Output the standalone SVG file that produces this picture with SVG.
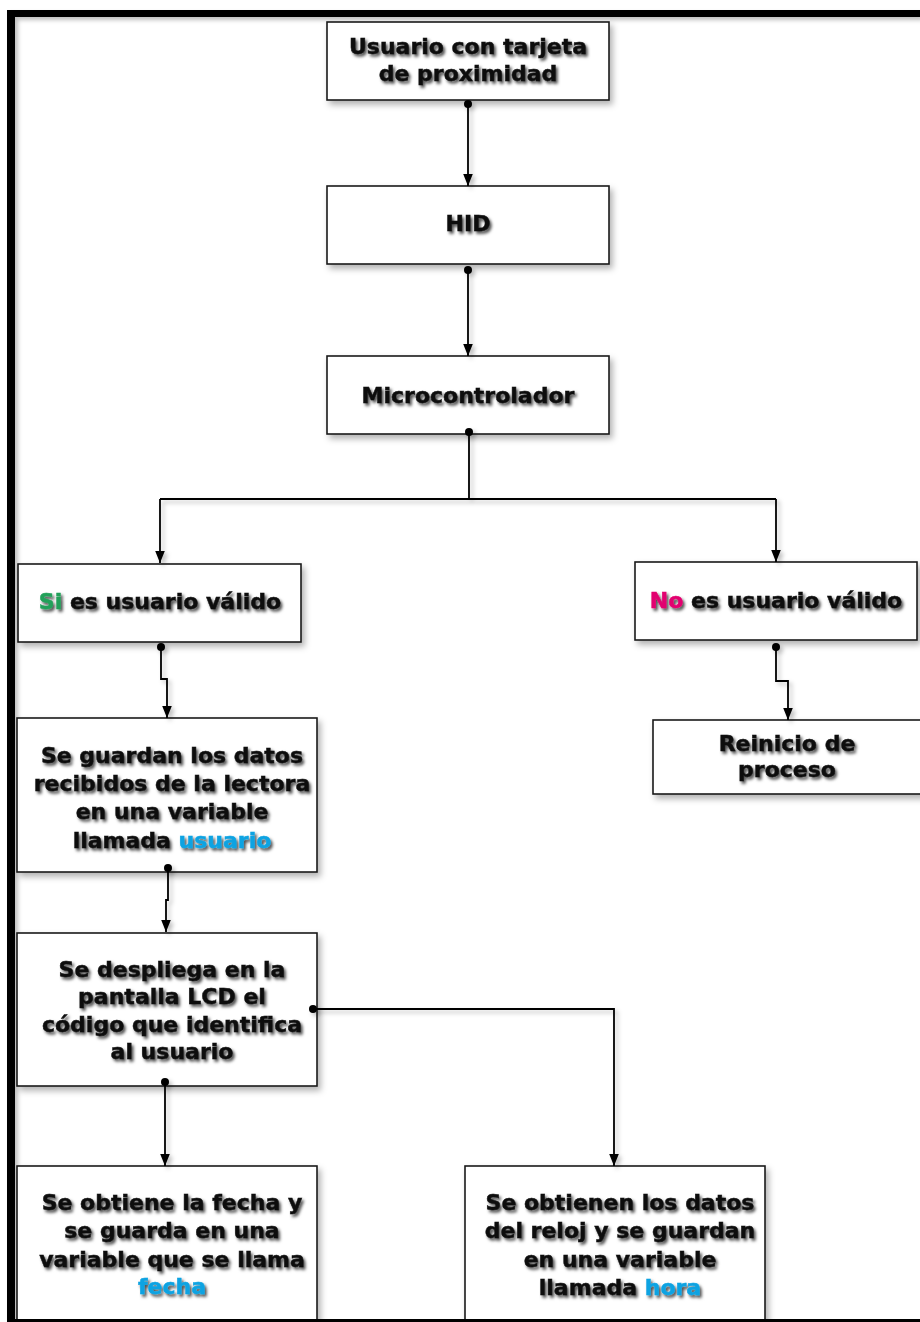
<svg xmlns="http://www.w3.org/2000/svg" width="920" height="1322" viewBox="0 0 920 1322">
<defs>
<filter id="bsh" x="-10%" y="-10%" width="125%" height="130%">
<feDropShadow dx="3" dy="4" stdDeviation="3" flood-color="#000" flood-opacity="0.3"/>
</filter>
<filter id="tsh" x="-10%" y="-30%" width="120%" height="170%">
<feDropShadow dx="2" dy="2.5" stdDeviation="1.8" flood-color="#000" flood-opacity="0.7"/>
</filter>
<filter id="lsh" x="-20%" y="-20%" width="140%" height="140%">
<feDropShadow dx="3" dy="3" stdDeviation="2" flood-color="#000" flood-opacity="0.25"/>
</filter>
<marker id="arr" viewBox="0 0 10 10" refX="10" refY="5" markerWidth="12" markerHeight="12" markerUnits="userSpaceOnUse" orient="auto">
<path d="M0,1 L10,5 L0,9 Z" fill="#000"/>
</marker>
<marker id="dot" viewBox="0 0 10 10" refX="5" refY="5" markerWidth="8" markerHeight="8" markerUnits="userSpaceOnUse" orient="auto">
<circle cx="5" cy="5" r="5" fill="#000"/>
</marker>
</defs>
<style>
.box{fill:#fff;stroke:#1a1a1a;stroke-width:1.6;filter:url(#bsh)}
.t{font-family:"DejaVu Sans","Liberation Sans",sans-serif;font-weight:bold;font-size:22px;fill:#111;stroke:#111;stroke-width:0.5;text-anchor:middle;filter:url(#tsh)}
.c{fill:none;stroke:#000;stroke-width:1.8;marker-start:url(#dot);marker-end:url(#arr)}
.p{fill:none;stroke:#000;stroke-width:1.8}
.g{fill:#23a05a;stroke:#23a05a}
.m{fill:#e2006f;stroke:#e2006f}
.b{fill:#0ea3e2;stroke:#0ea3e2}
</style>
<rect width="920" height="1322" fill="#fff"/>
<g id="frame" filter="url(#lsh)">
<rect x="7" y="10" width="913" height="7" fill="#000"/>
<rect x="7" y="10" width="8" height="1312" fill="#000"/>
</g>
<g id="n1">
<rect class="box" x="327" y="22" width="282" height="78"/>
<text class="t" x="468" y="54">Usuario con tarjeta</text>
<text class="t" x="468" y="81">de proximidad</text>
</g>
<g id="n2">
<rect class="box" x="327" y="186" width="282" height="78"/>
<text class="t" x="468" y="231">HID</text>
</g>
<g id="n3">
<rect class="box" x="327" y="356" width="282" height="78"/>
<text class="t" x="468" y="403">Microcontrolador</text>
</g>
<g id="n4">
<rect class="box" x="18" y="564" width="283" height="78"/>
<text class="t" x="160" y="609"><tspan class="g">Si</tspan> es usuario válido</text>
</g>
<g id="n5">
<rect class="box" x="635" y="562" width="282" height="78"/>
<text class="t" x="776" y="608"><tspan class="m">No</tspan> es usuario válido</text>
</g>
<g id="n6">
<rect class="box" x="653" y="720" width="300" height="74"/>
<text class="t" x="787" y="751">Reinicio de</text>
<text class="t" x="787" y="777">proceso</text>
</g>
<g id="n7">
<rect class="box" x="17" y="718" width="300" height="154"/>
<text class="t" x="172" y="763">Se guardan los datos</text>
<text class="t" x="172" y="791">recibidos de la lectora</text>
<text class="t" x="172" y="819">en una variable</text>
<text class="t" x="172" y="848">llamada <tspan class="b">usuario</tspan></text>
</g>
<g id="n8">
<rect class="box" x="17" y="933" width="300" height="153"/>
<text class="t" x="172" y="977">Se despliega en la</text>
<text class="t" x="172" y="1004">pantalla LCD el</text>
<text class="t" x="172" y="1032">código que identifica</text>
<text class="t" x="172" y="1059">al usuario</text>
</g>
<g id="n9">
<rect class="box" x="17" y="1166" width="300" height="170"/>
<text class="t" x="172" y="1210">Se obtiene la fecha y</text>
<text class="t" x="172" y="1238">se guarda en una</text>
<text class="t" x="172" y="1267">variable que se llama</text>
<text class="t" x="172" y="1294"><tspan class="b">fecha</tspan></text>
</g>
<g id="n10">
<rect class="box" x="465" y="1166" width="300" height="170"/>
<text class="t" x="620" y="1210">Se obtienen los datos</text>
<text class="t" x="620" y="1238">del reloj y se guardan</text>
<text class="t" x="620" y="1267">en una variable</text>
<text class="t" x="620" y="1295">llamada <tspan class="b">hora</tspan></text>
</g>
<g id="connectors" filter="url(#lsh)">
<path class="c" d="M468,104 V186"/>
<path class="c" d="M468,270 V356"/>
<path class="p" d="M469,432 V499 M160,499 H776" style="marker-start:url(#dot)"/>
<path class="p" d="M160,499 V563" style="marker-end:url(#arr)"/>
<path class="p" d="M776,499 V562" style="marker-end:url(#arr)"/>
<path class="c" d="M161,647 V679 H167 V718"/>
<path class="c" d="M776,647 V681 H788 V720"/>
<path class="c" d="M168,868 V900 H166 V932"/>
<path class="c" d="M165,1082 V1166"/>
<path class="c" d="M313,1009 H614 V1166"/>
</g>
<g id="frame-bottom">
<rect x="7" y="1319" width="913" height="3" fill="#000"/>
</g>
</svg>
